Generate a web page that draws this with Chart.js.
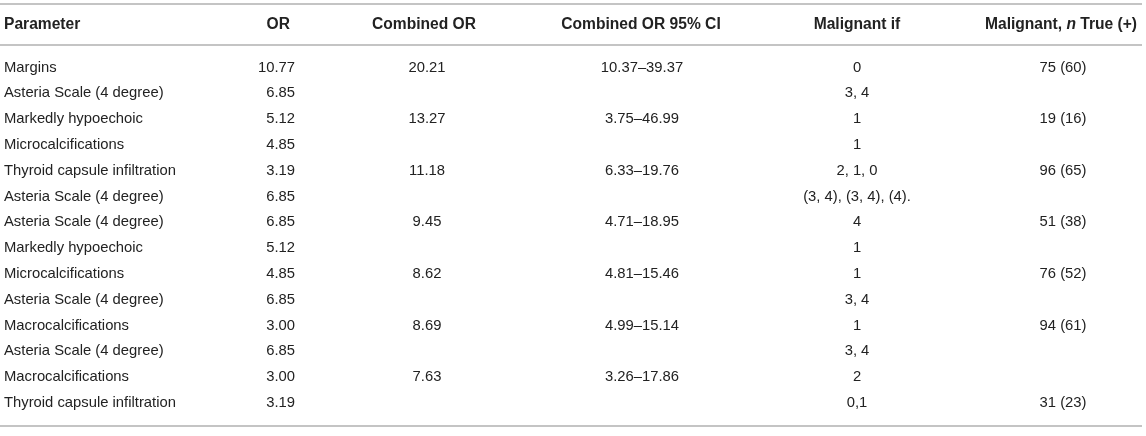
<!DOCTYPE html>
<html>
<head>
<meta charset="utf-8">
<script src="https://cdn.jsdelivr.net/npm/chart.js@4"></script>
<style>
  html, body { margin: 0; padding: 0; background: #fff; }
  #wrap { width: 1146px; height: 436px; position: relative; }
</style>
</head>
<body>
<div id="wrap"><canvas id="orTable"></canvas></div>
<script>
// Table data
const parameters = [
    'Margins', 'Asteria Scale (4 degree)', 'Markedly hypoechoic', 'Microcalcifications',
    'Thyroid capsule infiltration', 'Asteria Scale (4 degree)', 'Asteria Scale (4 degree)',
    'Markedly hypoechoic', 'Microcalcifications', 'Asteria Scale (4 degree)',
    'Macrocalcifications', 'Asteria Scale (4 degree)', 'Macrocalcifications',
    'Thyroid capsule infiltration'
];
const orValues = [10.77, 6.85, 5.12, 4.85, 3.19, 6.85, 6.85, 5.12, 4.85, 6.85, 3.00, 6.85, 3.00, 3.19];
const combinedOR = [20.21, null, 13.27, null, 11.18, null, 9.45, null, 8.62, null, 8.69, null, 7.63, null];
const combinedCI = ['10.37–39.37', '', '3.75–46.99', '', '6.33–19.76', '', '4.71–18.95', '',
    '4.81–15.46', '', '4.99–15.14', '', '3.26–17.86', ''];
const malignantIf = ['0', '3, 4', '1', '1', '2, 1, 0', '(3, 4), (3, 4), (4).', '4', '1', '1',
    '3, 4', '1', '3, 4', '2', '0,1'];
const malignantN = ['75 (60)', '', '19 (16)', '', '96 (65)', '', '51 (38)', '', '76 (52)', '',
    '94 (61)', '', '', '31 (23)'];
const headers = ['Parameter', 'OR', 'Combined OR', 'Combined OR 95% CI', 'Malignant if', 'Malignant, n True (+)'];

// Layout (x in pixels of the x scale, y in row units of the y scale)
const colX = [4, 295, 427, 642, 857, 1063];
const colAlign = ['left', 'right', 'center', 'center', 'center', 'center'];
const headX = [4, 290, 424, 641, 857, 1061];
const headAlign = ['left', 'right', 'center', 'center', 'center', 'center'];
const HEAD_ROW = -1.667;
const RULES = [-2.461, -0.872, 13.90];
const RULE_END = 1142;
const TEXT_COLOR = '#222222';
const RULE_COLOR = '#c4c4c4';
const BODY_FONT = '14.8px "Liberation Sans", Arial, sans-serif';
const HEAD_FONT = 'bold 15.6px "Liberation Sans", Arial, sans-serif';
const HEAD_ITALIC = 'italic bold 15.6px "Liberation Sans", Arial, sans-serif';

const columns = [
    parameters,
    orValues.map(v => v.toFixed(2)),
    combinedOR.map(v => v === null ? '' : v.toFixed(2)),
    combinedCI,
    malignantIf,
    malignantN
];

const tablePlugin = {
    id: 'tableText',
    afterDatasetsDraw(chart) {
        const { ctx, scales: { x, y } } = chart;
        ctx.save();

        // horizontal rules
        ctx.strokeStyle = RULE_COLOR;
        ctx.lineWidth = 2;
        RULES.forEach(r => {
            const py = Math.round(y.getPixelForValue(r));
            ctx.beginPath();
            ctx.moveTo(x.getPixelForValue(0), py);
            ctx.lineTo(x.getPixelForValue(RULE_END), py);
            ctx.stroke();
        });

        ctx.fillStyle = TEXT_COLOR;
        ctx.textBaseline = 'middle';

        // header row
        const hy = y.getPixelForValue(HEAD_ROW);
        headers.forEach((h, i) => {
            const hx = x.getPixelForValue(headX[i]);
            if (h.includes(', n ')) {
                // italic n in the last header
                const parts = [['Malignant, ', HEAD_FONT], ['n', HEAD_ITALIC], [' True (+)', HEAD_FONT]];
                let total = 0;
                parts.forEach(p => { ctx.font = p[1]; total += ctx.measureText(p[0]).width; });
                let px = hx - total / 2;
                ctx.textAlign = 'left';
                parts.forEach(p => {
                    ctx.font = p[1];
                    ctx.fillText(p[0], px, hy);
                    px += ctx.measureText(p[0]).width;
                });
            } else {
                ctx.font = HEAD_FONT;
                ctx.textAlign = headAlign[i];
                ctx.fillText(h, hx, hy);
            }
        });

        // body cells, placed at each point of the column datasets
        ctx.font = BODY_FONT;
        chart.data.datasets.forEach((ds, i) => {
            const meta = chart.getDatasetMeta(i);
            ctx.textAlign = colAlign[i];
            meta.data.forEach((pt, j) => {
                const txt = ds.cellText[j];
                if (txt) ctx.fillText(txt, pt.x, pt.y);
            });
        });
        ctx.restore();
    }
};

const ctxTable = document.getElementById('orTable').getContext('2d');
new Chart(ctxTable, {
    type: 'scatter',
    data: {
        datasets: columns.map((col, i) => ({
            label: headers[i],
            data: col.map((_, j) => ({ x: colX[i], y: j })),
            cellText: col,
            pointRadius: 0,
            pointHoverRadius: 0
        }))
    },
    options: {
        responsive: true,
        maintainAspectRatio: false,
        animation: false,
        layout: { padding: 0 },
        events: [],
        plugins: { legend: { display: false }, tooltip: { enabled: false } },
        scales: {
            x: { type: 'linear', min: 0, max: 1146, display: false },
            y: { type: 'linear', min: -2.616, max: 14.283, reverse: true, display: false }
        }
    },
    plugins: [tablePlugin]
});
</script>
</body>
</html>
